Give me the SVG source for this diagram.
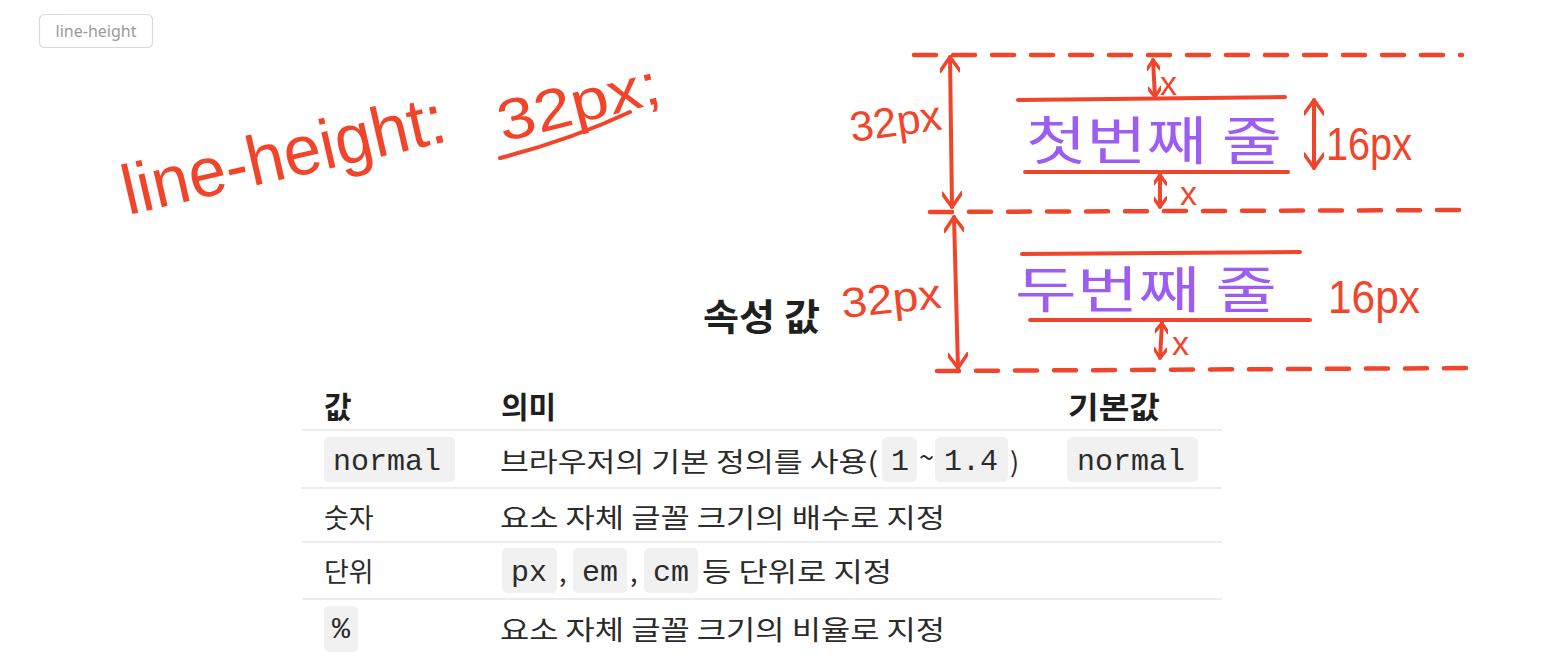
<svg xmlns="http://www.w3.org/2000/svg" width="1568" height="668" viewBox="0 0 1568 668">
<style>
.hw{font-family:"Liberation Sans","DejaVu Sans",sans-serif;fill:#f0452b;}
.hwk{font-family:"Noto Sans CJK KR",sans-serif;fill:#9d5cf2;}
.red{stroke:#f0452b;stroke-width:4;fill:none;stroke-linecap:round;}
.dash{stroke:#f0452b;stroke-width:4.5;fill:none;stroke-dasharray:22 17;stroke-linecap:round;}
.th{font-family:"Noto Sans CJK KR",sans-serif;font-weight:700;font-size:30px;fill:#1f1f1f;}
.td{font-family:"Noto Sans CJK KR",sans-serif;font-size:27px;fill:#2b2b2b;}
.code{font-family:"Liberation Mono",monospace;font-size:30px;fill:#2b2b2b;}
.chip{fill:#f1f1f2;}
.sep{stroke:#e6e6e6;stroke-width:1.5;}
</style>
<defs>
<marker id="big" viewBox="0 0 20 20" markerWidth="20" markerHeight="20" refX="18" refY="10" orient="auto-start-reverse" markerUnits="userSpaceOnUse">
<path d="M4,0 L18,10 L4,20" fill="none" stroke="#f0452b" stroke-width="3.5" stroke-linecap="round" stroke-linejoin="round"/>
</marker>
<marker id="small" viewBox="0 0 20 20" markerWidth="13" markerHeight="13" refX="18" refY="10" orient="auto-start-reverse" markerUnits="userSpaceOnUse">
<path d="M4,0 L18,10 L4,20" fill="none" stroke="#f0452b" stroke-width="5" stroke-linecap="round" stroke-linejoin="round"/>
</marker>
</defs>
<rect width="1568" height="668" fill="#ffffff"/>

<g id="tag">
<rect x="39.5" y="14.5" width="113" height="33" rx="5" fill="#ffffff" stroke="#d9d9d9" stroke-width="1.2"/>
<text x="96" y="37" text-anchor="middle" font-family="'Noto Sans','Liberation Sans',sans-serif" font-size="16" fill="#9a9a9a">line-height</text>
</g>

<g id="handwriting">
<text class="hw" x="128" y="215" font-size="70" textLength="330" lengthAdjust="spacingAndGlyphs" transform="rotate(-13 128 215)">line-height:</text>
<text class="hw" x="503" y="142" font-size="58" textLength="165" lengthAdjust="spacingAndGlyphs" transform="rotate(-14 503 142)">32px;</text>
<path class="red" d="M500,158 Q570,140 630,112"/>
</g>

<g id="title">
<text x="703" y="331" font-family="'Noto Sans CJK KR',sans-serif" font-weight="700" font-size="37" fill="#1f1f1f" textLength="117" lengthAdjust="spacingAndGlyphs">속성 값</text>
</g>

<g id="connectors">
<path class="dash" d="M914,55 L1462,55"/>
<path class="dash" d="M930,212 L1462,210"/>
<path class="dash" d="M937,371 L1478,368"/>
<path class="red" d="M1018,100 L1285,97"/>
<path class="red" d="M1025,172 L1288,172"/>
<path class="red" d="M1022,254 L1300,252"/>
<path class="red" d="M1030,320 L1310,320"/>
<path class="red" d="M950,57 L952,207" marker-start="url(#big)" marker-end="url(#big)"/>
<path class="red" d="M954,217 L958,368" marker-start="url(#big)" marker-end="url(#big)"/>
<path class="red" d="M1314,100 L1314,168" marker-start="url(#big)" marker-end="url(#big)"/>
<path class="red" d="M1153,60 L1155,97" marker-start="url(#small)" marker-end="url(#small)"/>
<path class="red" d="M1160,175 L1160,207" marker-start="url(#small)" marker-end="url(#small)"/>
<path class="red" d="M1162,323 L1160,358" marker-start="url(#small)" marker-end="url(#small)"/>
</g>

<g id="label-32px-1"><text class="hw" x="852" y="142" font-size="42" textLength="92" lengthAdjust="spacingAndGlyphs" transform="rotate(-8 852 142)">32px</text></g>
<g id="label-32px-2"><text class="hw" x="843" y="318" font-size="42" textLength="100" lengthAdjust="spacingAndGlyphs" transform="rotate(-6 843 318)">32px</text></g>
<g id="label-x-1"><text class="hw" x="1160" y="95" font-size="34">x</text></g>
<g id="label-x-2"><text class="hw" x="1180" y="205" font-size="34">x</text></g>
<g id="label-x-3"><text class="hw" x="1172" y="355" font-size="34">x</text></g>
<g id="label-16px-1"><text class="hw" x="1326" y="160" font-size="46" textLength="86" lengthAdjust="spacingAndGlyphs">16px</text></g>
<g id="label-16px-2"><text class="hw" x="1328" y="313" font-size="46" textLength="92" lengthAdjust="spacingAndGlyphs">16px</text></g>
<g id="line1"><text class="hwk" x="1026" y="160" font-size="52" textLength="256" lengthAdjust="spacingAndGlyphs">첫번째 줄</text></g>
<g id="line2"><text class="hwk" x="1015" y="308" font-size="50" textLength="262" lengthAdjust="spacingAndGlyphs">두번째 줄</text></g>

<g id="table">
<text class="th" x="324" y="418">값</text>
<text class="th" x="501" y="418">의미</text>
<text class="th" x="1068" y="418" textLength="92" lengthAdjust="spacingAndGlyphs">기본값</text>
<line class="sep" x1="302" y1="430" x2="1222" y2="430"/>

<rect class="chip" x="324" y="437" width="131" height="45" rx="5"/>
<text class="code" x="333" y="470">normal</text>
<text class="td" x="500" y="472" textLength="378" lengthAdjust="spacingAndGlyphs">브라우저의 기본 정의를 사용(</text>
<rect class="chip" x="882" y="437" width="35" height="45" rx="5"/>
<text class="code" x="891" y="470">1</text>
<text class="td" x="919" y="467" font-size="20">~</text>
<rect class="chip" x="935" y="437" width="73" height="45" rx="5"/>
<text class="code" x="944" y="470">1.4</text>
<text class="td" x="1010" y="472">)</text>
<rect class="chip" x="1067" y="437" width="131" height="45" rx="5"/>
<text class="code" x="1077" y="470">normal</text>
<line class="sep" x1="302" y1="488" x2="1222" y2="488"/>

<text class="td" x="324" y="528">숫자</text>
<text class="td" x="500" y="528" textLength="445" lengthAdjust="spacingAndGlyphs">요소 자체 글꼴 크기의 배수로 지정</text>
<line class="sep" x1="302" y1="542" x2="1222" y2="542"/>

<text class="td" x="324" y="582">단위</text>
<rect class="chip" x="502" y="548" width="55" height="45" rx="5"/>
<text class="code" x="511" y="581">px</text>
<text class="td" x="559" y="582">,</text>
<rect class="chip" x="573" y="548" width="54" height="45" rx="5"/>
<text class="code" x="582" y="581">em</text>
<text class="td" x="630" y="582">,</text>
<rect class="chip" x="644" y="548" width="54" height="45" rx="5"/>
<text class="code" x="653" y="581">cm</text>
<text class="td" x="702" y="582" textLength="190" lengthAdjust="spacingAndGlyphs">등 단위로 지정</text>
<line class="sep" x1="302" y1="599" x2="1222" y2="599"/>

<rect class="chip" x="324" y="606" width="34" height="46" rx="5"/>
<text class="code" x="332" y="638" font-size="22">%</text>
<text class="td" x="500" y="640" textLength="445" lengthAdjust="spacingAndGlyphs">요소 자체 글꼴 크기의 비율로 지정</text>
</g>
</svg>
